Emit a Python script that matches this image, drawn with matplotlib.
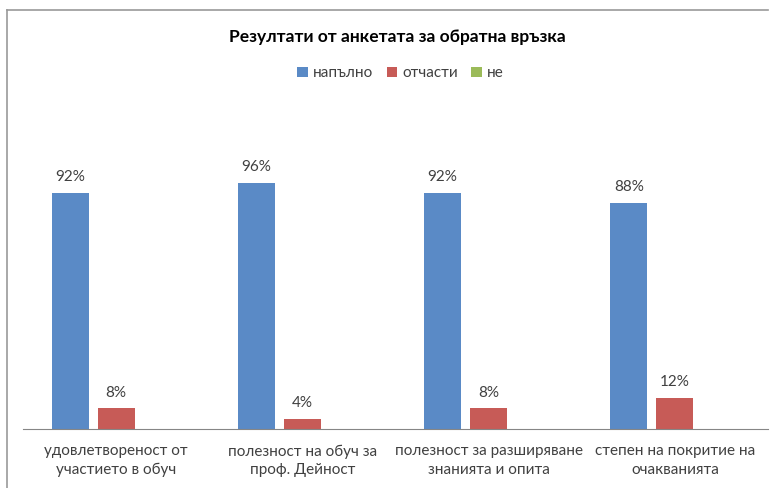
import matplotlib
matplotlib.use('Agg')
import matplotlib.pyplot as plt
import numpy as np
from matplotlib.lines import Line2D

plt.rcParams['font.family'] = ['Lato', 'DejaVu Sans']

categories = ['удовлетвореност от\nучастието в обуч',
              'полезност на обуч за\nпроф. Дейност',
              'полезност за разширяване\nзнанията и опита',
              'степен на покритие на\nочакванията']
series_names = ['напълно', 'отчасти', 'не']
napalno = [0.92, 0.96, 0.92, 0.88]
otchasti = [0.08, 0.04, 0.08, 0.12]
ne = [0.0, 0.0, 0.0, 0.0]
colors = ['#5A8AC6', '#C75B57', '#9BBB59']

fig = plt.figure(figsize=(7.76, 4.88), dpi=100)
ax = fig.add_axes([23 / 776, 1 - 429 / 488, 745 / 776, 256.5 / 488])

x = np.arange(len(categories))
w = 0.199
step = 0.247
for i, (vals, name, c) in enumerate(zip([napalno, otchasti, ne], series_names, colors)):
    b = ax.bar(x + (i - 1) * step, vals, width=w, color=c, label=name)
    if i < 2:
        for rect, v in zip(b, vals):
            ax.text(rect.get_x() + rect.get_width() / 2, v + 0.035, f'{v:.0%}',
                    ha='center', va='bottom', fontsize=11, color='#404040')

ax.set_xlim(-0.5, len(categories) - 0.5)
ax.set_ylim(0, 1)
ax.set_yticks([])
ax.set_xticks(x)
ax.set_xticklabels(categories, fontsize=11, color='#404040', linespacing=1.4)
ax.tick_params(axis='x', length=0, pad=11)
for s in ['top', 'right', 'left']:
    ax.spines[s].set_visible(False)
ax.spines['bottom'].set_color('#868686')

fig.text(0.512, 0.925, 'Резултати от анкетата за обратна връзка',
         ha='center', va='center', fontsize=12.5, fontweight='bold')
fig.legend(loc='center', bbox_to_anchor=(0.516, 0.85), ncol=3, frameon=False,
           fontsize=11, handlelength=0.7, handleheight=0.7, handletextpad=0.3,
           columnspacing=0.9, labelcolor='#404040')

# chart border
fig.add_artist(Line2D([7 / 776, 7 / 776], [0, 1 - 10 / 488], color='#999999', lw=1.2))
fig.add_artist(Line2D([7 / 776, 768 / 776], [1 - 10 / 488, 1 - 10 / 488], color='#999999', lw=1.2))

fig.savefig('out.png', dpi=100)
